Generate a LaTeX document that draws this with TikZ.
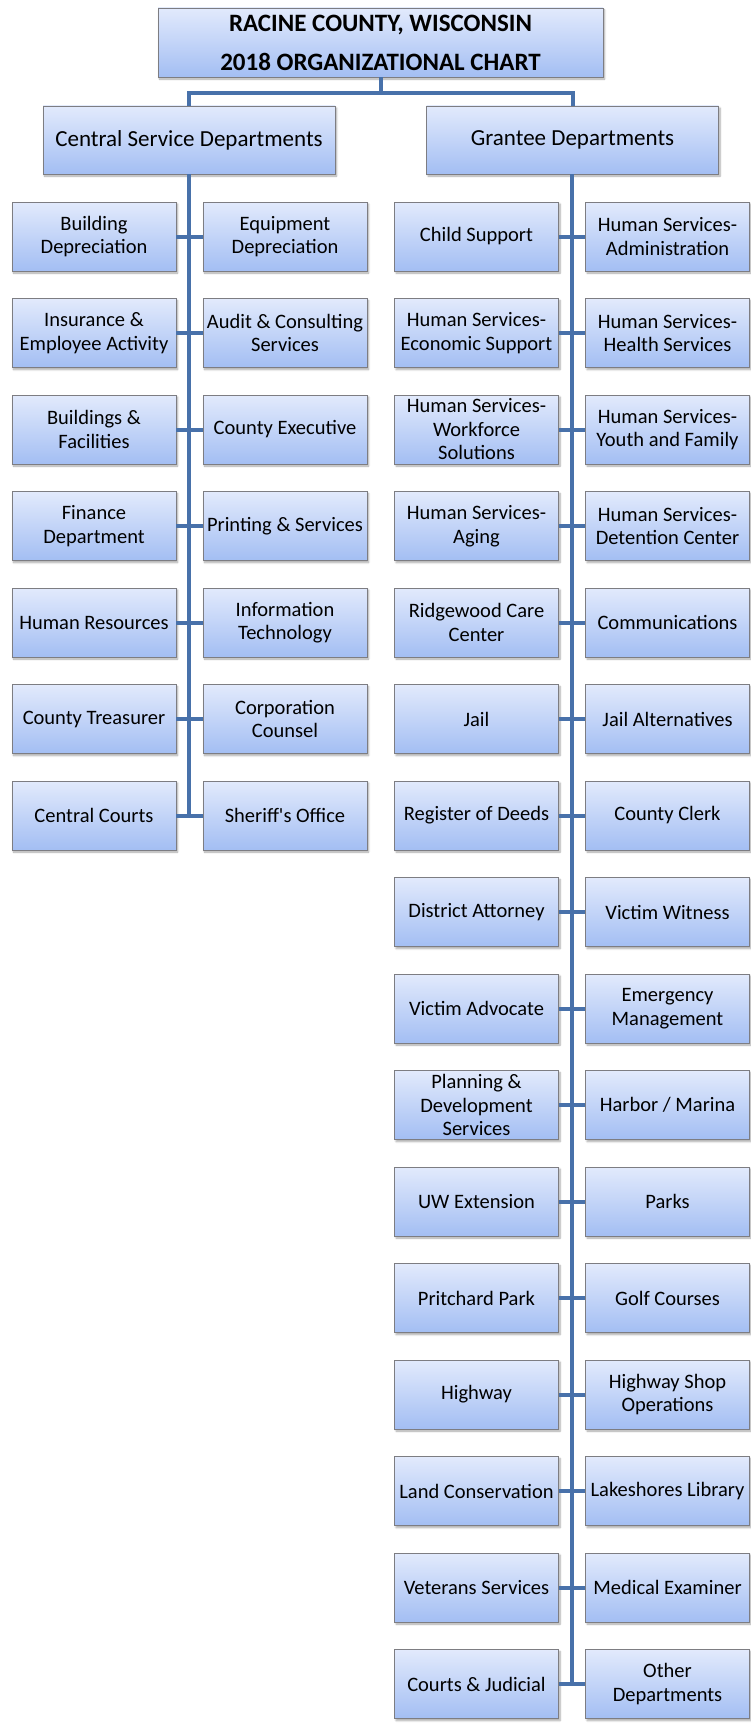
\documentclass[tikz,border=0pt]{standalone}
\usepackage{fontspec}
\setmainfont{Carlito}
\usetikzlibrary{shadows.blur}
\definecolor{boxtop}{RGB}{226,234,252}
\definecolor{boxbot}{RGB}{163,190,243}
\definecolor{boxedge}{RGB}{125,125,130}
\definecolor{linkblue}{RGB}{72,113,170}
\tikzset{
  orgbox/.style={rectangle, draw=boxedge, line width=0.9pt, top color=boxtop, bottom color=boxbot,
    minimum width=164pt, minimum height=69pt, inner sep=1pt, align=center,
    font=\fontsize{20.5}{23.5}\selectfont,
    blur shadow={shadow xshift=1.5pt, shadow yshift=-2pt, shadow opacity=35, shadow blur steps=6}},
  headbox/.style={orgbox, minimum width=292pt, minimum height=68pt, font=\fontsize{23}{27}\selectfont},
  titlebox/.style={orgbox, minimum width=445pt, minimum height=69pt, font=\bfseries\fontsize{25}{39}\selectfont},
  link/.style={draw=linkblue, line width=4pt},
}
\begin{document}
\begin{tikzpicture}[x=1pt,y=-1pt]
\useasboundingbox (0,0) rectangle (751,1726);
\node[titlebox] (title) at (380.5,42.5) {RACINE COUNTY, WISCONSIN\\2018 ORGANIZATIONAL CHART};
\node[headbox] (central) at (189,140) {Central Service Departments};
\node[headbox] (grantee) at (572.5,140) {Grantee Departments};
\coordinate (jn) at (380.5,93);
\coordinate (cEnd) at (189,815.5);
\coordinate (gEnd) at (572,1684);
\draw[link] (title.south) -- (jn);
\draw[link] (central.north) |- (jn) -| (grantee.north);
\draw[link] (central.south) -- (cEnd);
\draw[link] (grantee.south -| gEnd) -- (gEnd);
\foreach \i/\a/\b in {
 1/{Building\\Depreciation}/{Equipment\\Depreciation},
 2/{Insurance \&\\Employee Activity}/{Audit \& Consulting\\Services},
 3/{Buildings \&\\Facilities}/{County Executive},
 4/{Finance\\Department}/{Printing \& Services},
 5/{Human Resources}/{Information\\Technology},
 6/{County Treasurer}/{Corporation\\Counsel},
 7/{Central Courts}/{Sheriff\textquotesingle s Office}}{
  \pgfmathsetmacro{\yy}{236.5+(\i-1)*96.5}
  \node[orgbox] (cL\i) at (94,\yy) {\a};
  \node[orgbox] (cR\i) at (285,\yy) {\b};
  \draw[link] (cL\i.east) -- (cR\i.west);
}
\foreach \i/\a/\b in {
 1/{Child Support}/{Human Services-\\Administration},
 2/{Human Services-\\Economic Support}/{Human Services-\\Health Services},
 3/{Human Services-\\Workforce\\Solutions}/{Human Services-\\Youth and Family},
 4/{Human Services-\\Aging}/{Human Services-\\Detention Center},
 5/{Ridgewood Care\\Center}/{Communications},
 6/{Jail}/{Jail Alternatives},
 7/{Register of Deeds}/{County Clerk},
 8/{District Attorney}/{Victim Witness},
 9/{Victim Advocate}/{Emergency\\Management},
 10/{Planning \&\\Development\\Services}/{Harbor / Marina},
 11/{UW Extension}/{Parks},
 12/{Pritchard Park}/{Golf Courses},
 13/{Highway}/{Highway Shop\\Operations},
 14/{Land Conservation}/{Lakeshores Library},
 15/{Veterans Services}/{Medical Examiner},
 16/{Courts \& Judicial}/{Other\\Departments}}{
  \pgfmathsetmacro{\yy}{236.5+(\i-1)*96.5}
  \node[orgbox] (gL\i) at (476.5,\yy) {\a};
  \node[orgbox] (gR\i) at (667.5,\yy) {\b};
  \draw[link] (gL\i.east) -- (gR\i.west);
}
\end{tikzpicture}
\end{document}
